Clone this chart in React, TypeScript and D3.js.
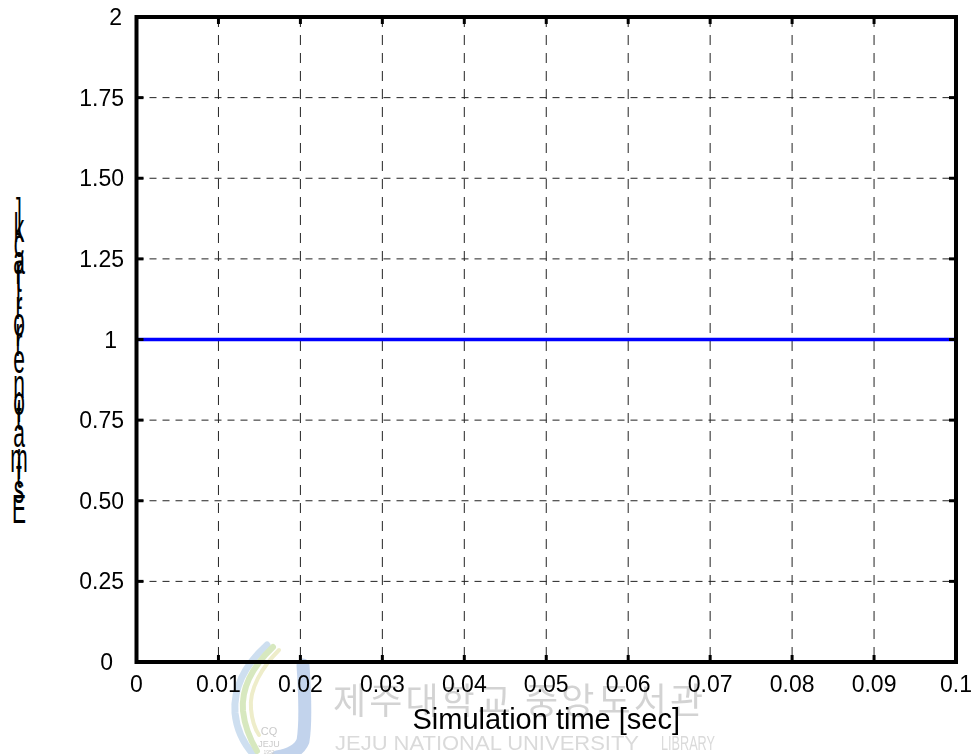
import React from 'react';
import * as d3 from 'd3';

// data
const timeSec = [0, 0.1];
const estimationError = [1, 1];
const xTicks = [0, 0.01, 0.02, 0.03, 0.04, 0.05, 0.06, 0.07, 0.08, 0.09, 0.1];
const xTickLabels = ['0', '0.01', '0.02', '0.03', '0.04', '0.05', '0.06', '0.07', '0.08', '0.09', '0.1'];
const yTicks = [0, 0.25, 0.5, 0.75, 1, 1.25, 1.5, 1.75, 2];
const yTickLabels = ['0', '0.25', '0.50', '0.75', '1', '1.25', '1.50', '1.75', '2'];
const xTitle = 'Simulation time [sec]';
const yTitle = 'Estimation error [track]';
const watermarkKo = '제주대학교 중앙도서관';
const watermarkEn = ['JEJU NATIONAL UNIVERSITY', 'LIBRARY'];

const W = 978;
const H = 754;
const margin = { top: 17, right: 22, bottom: 92, left: 136.5 };
const FONT = '"Liberation Sans", Arial, Helvetica, sans-serif';

// rough Arial advance widths (em) for the stacked y title
const advance: Record<string, number> = {
  E: 0.667, s: 0.5, t: 0.278, i: 0.222, m: 0.833, a: 0.556, o: 0.556, n: 0.556,
  ' ': 0.278, e: 0.556, r: 0.333, '[': 0.278, ']': 0.278, c: 0.5, k: 0.5,
};

// matlab pushes the short labels a bit left
const yLabelShift: Record<string, number> = { '0': -11, '1': -7, '2': -2 };

export default function App() {
  const x = d3.scaleLinear().domain([0, 0.1]).range([margin.left, W - margin.right]);
  const y = d3.scaleLinear().domain([0, 2]).range([H - margin.bottom, margin.top]);
  const x0 = x(0), x1 = x(0.1), y0 = y(0), y1 = y(2);

  const line = d3.line<number>()
    .x((_, i) => x(timeSec[i]))
    .y(d => y(d));

  // y title: upright glyphs stacked bottom-to-top (the matlab export artefact)
  let cum = 0;
  const titleChars = yTitle.split('').map(ch => {
    const pos = 523 - cum * 30.3;
    cum += advance[ch] ?? 0.5;
    return { ch, pos };
  });

  return (
    <svg width={W} height={H} style={{ position: 'absolute', left: 0, top: 0, background: '#fff' }}
      fontFamily={FONT}>
      {/* library watermark */}
      <g opacity={0.9}>
        <g transform="translate(227,645)" fill="none" strokeLinecap="round">
          <path d="M40,0 C20,18 6,40 8,68 C10,88 18,100 26,109" stroke="#c9dcef" strokeWidth={7} />
          <path d="M46,2 C27,20 14,42 16,66 C18,84 24,96 30,106" stroke="#d3e6b8" strokeWidth={6} />
          <path d="M52,5 C35,22 22,44 24,64 C25,76 28,84 32,90" stroke="#ecebc4" strokeWidth={4} />
          <path d="M76,20 C78,50 79,78 76,96 C72,106 62,110 50,112" stroke="#bccfea" strokeWidth={13} />
          <text x={42} y={90} fontSize={11} fill="#c4c4c4" textAnchor="middle" stroke="none">CQ</text>
          <text x={42} y={102} fontSize={9} fill="#c4c4c4" textAnchor="middle" stroke="none">JEJU</text>
          <text x={42} y={109} fontSize={5} fill="#c4c4c4" textAnchor="middle" stroke="none">1952</text>
        </g>
        <text x={333} y={714} fontSize={36} fill="#cfcfcf"
          fontFamily='"Noto Sans CJK KR", "Noto Sans CJK SC", sans-serif'
          textLength={370} lengthAdjust="spacing">{watermarkKo}</text>
        <text x={335} y={750} fontSize={20} fill="#d6d6d6" textLength={304} lengthAdjust="spacingAndGlyphs">{watermarkEn[0]}</text>
        <text x={661} y={750} fontSize={20} fill="#d6d6d6" textLength={54} lengthAdjust="spacingAndGlyphs">{watermarkEn[1]}</text>
      </g>

      {/* grid */}
      <g stroke="#222" strokeWidth={1} fill="none">
        {xTicks.slice(1, -1).map(t => (
          <line key={'gx' + t} x1={x(t)} x2={x(t)} y1={y1} y2={y0} strokeDasharray="10,8" />
        ))}
        {yTicks.slice(1, -1).map(t => (
          <line key={'gy' + t} x1={x0} x2={x1} y1={y(t)} y2={y(t)} strokeDasharray="7,6" />
        ))}
      </g>

      {/* data */}
      <path d={line(estimationError) ?? ''} fill="none" stroke="#0000ff" strokeWidth={3.5} />

      {/* box + inward ticks */}
      <g stroke="#000" strokeWidth={3}>
        {xTicks.map(t => (
          <g key={'tx' + t}>
            <line x1={x(t)} x2={x(t)} y1={y0} y2={y0 - 7} />
            <line x1={x(t)} x2={x(t)} y1={y1} y2={y1 + 7} />
          </g>
        ))}
        {yTicks.map(t => (
          <g key={'ty' + t}>
            <line x1={x0} x2={x0 + 7} y1={y(t)} y2={y(t)} />
            <line x1={x1} x2={x1 - 7} y1={y(t)} y2={y(t)} />
          </g>
        ))}
      </g>
      <rect x={x0} y={y1} width={x1 - x0} height={y0 - y1} fill="none" stroke="#000" strokeWidth={4} />

      {/* tick labels */}
      <g fontSize={23} fill="#000">
        {xTicks.map((t, i) => (
          <text key={'lx' + t} x={x(t)} y={692} textAnchor="middle">{xTickLabels[i]}</text>
        ))}
        {yTicks.map((t, i) => (
          <text key={'ly' + t} x={124 + (yLabelShift[yTickLabels[i]] ?? 0)} y={y(t)} dy="0.35em"
            textAnchor="end">{yTickLabels[i]}</text>
        ))}
      </g>

      {/* titles */}
      <text x={(x0 + x1) / 2} y={729} fontSize={29} textAnchor="middle">{xTitle}</text>
      <g fontSize={21} fill="#000">
        {titleChars.map((c, i) => c.ch === ' ' ? null : (
          <text key={'yt' + i} transform={`translate(19,${c.pos}) scale(1,1.9)`} textAnchor="middle">{c.ch}</text>
        ))}
      </g>
    </svg>
  );
}
